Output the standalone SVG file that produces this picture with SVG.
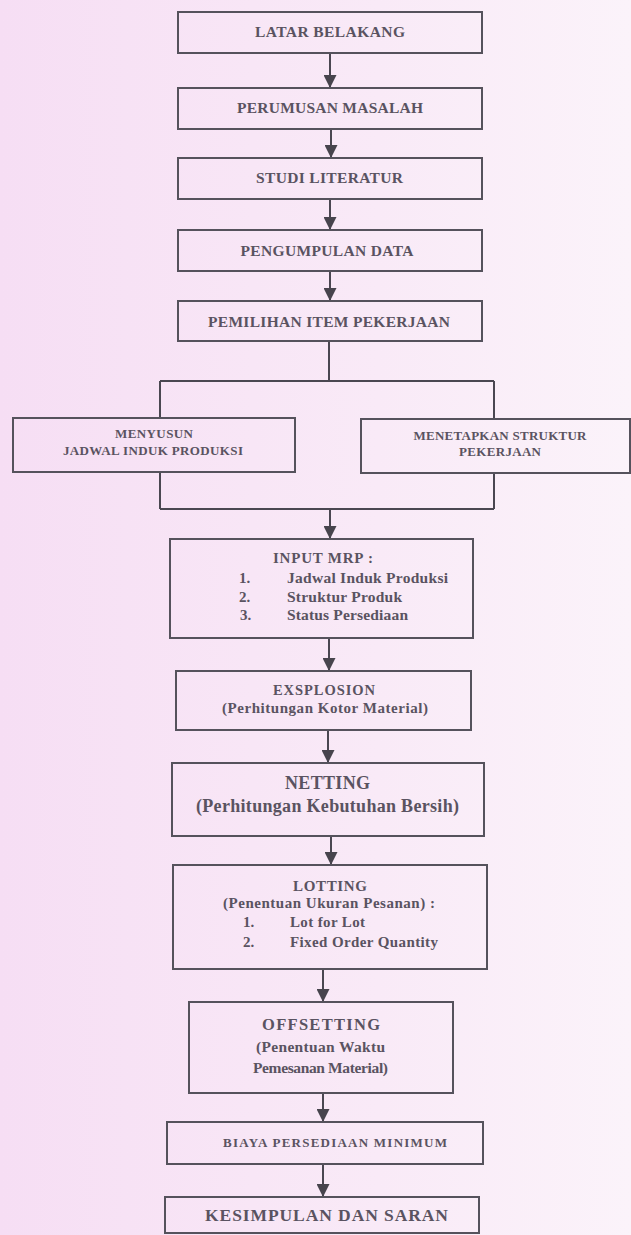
<svg xmlns="http://www.w3.org/2000/svg" width="631" height="1235" viewBox="0 0 631 1235">
<defs>
<linearGradient id="bg" x1="0" y1="0" x2="1" y2="0">
<stop offset="0" stop-color="#f6def4"/>
<stop offset="0.6" stop-color="#f9eaf7"/>
<stop offset="1" stop-color="#fbf3fa"/>
</linearGradient>
<marker id="ah" viewBox="0 0 12 12" refX="12" refY="6" markerWidth="13" markerHeight="13" orient="auto" markerUnits="userSpaceOnUse">
<path d="M0,0 L12,6 L0,12 z" fill="#47444d"/>
</marker>
<style>
.box{fill:none;stroke:#55525c;stroke-width:2}
.ln{fill:none;stroke:#4a4751;stroke-width:2}
.ar{fill:none;stroke:#4a4751;stroke-width:2;marker-end:url(#ah)}
text{font-family:"Liberation Serif","Times New Roman",serif;font-weight:bold;fill:#5a5361}
.c{text-anchor:middle}
</style>
</defs>
<rect x="0" y="0" width="631" height="1235" fill="url(#bg)"/>

<g id="connectors">
<line class="ar" x1="330" y1="53" x2="330" y2="88"/>
<line class="ar" x1="331" y1="129" x2="331" y2="158"/>
<line class="ar" x1="330" y1="199" x2="330" y2="230"/>
<line class="ar" x1="330" y1="271" x2="330" y2="301"/>
<line class="ln" x1="329" y1="341" x2="329" y2="381"/>
<line class="ln" x1="160" y1="381" x2="494" y2="381"/>
<line class="ln" x1="160" y1="381" x2="160" y2="418"/>
<line class="ln" x1="494" y1="381" x2="494" y2="419"/>
<line class="ln" x1="160" y1="472" x2="160" y2="509"/>
<line class="ln" x1="494" y1="473" x2="494" y2="509"/>
<line class="ln" x1="160" y1="509" x2="494" y2="509"/>
<line class="ar" x1="330" y1="509" x2="330" y2="539"/>
<line class="ar" x1="329" y1="638" x2="329" y2="671"/>
<line class="ar" x1="328" y1="730" x2="328" y2="763"/>
<line class="ar" x1="331" y1="836" x2="331" y2="865"/>
<line class="ar" x1="323" y1="969" x2="323" y2="1002"/>
<line class="ar" x1="323" y1="1093" x2="323" y2="1122"/>
<line class="ar" x1="323" y1="1164" x2="323" y2="1197"/>
</g>

<g id="latar">
<rect class="box" x="178" y="12" width="304" height="41"/>
<text class="c" x="330" y="37" font-size="15.5" textLength="150">LATAR BELAKANG</text>
</g>
<g id="perumusan">
<rect class="box" x="178" y="88" width="304" height="41"/>
<text class="c" x="330" y="113" font-size="15.5" textLength="186">PERUMUSAN MASALAH</text>
</g>
<g id="studi">
<rect class="box" x="178" y="158" width="304" height="41"/>
<text class="c" x="329.5" y="183" font-size="15.5" textLength="147">STUDI LITERATUR</text>
</g>
<g id="pengumpulan">
<rect class="box" x="178" y="230" width="304" height="41"/>
<text class="c" x="327" y="256" font-size="15.5" textLength="173">PENGUMPULAN DATA</text>
</g>
<g id="pemilihan">
<rect class="box" x="178" y="301" width="304" height="40"/>
<text class="c" x="329" y="327" font-size="15.5" textLength="242">PEMILIHAN ITEM PEKERJAAN</text>
</g>
<g id="menyusun">
<rect class="box" x="13" y="418" width="282" height="54"/>
<text class="c" x="154" y="438" font-size="13" textLength="78">MENYUSUN</text>
<text class="c" x="153" y="455" font-size="13" textLength="180">JADWAL INDUK PRODUKSI</text>
</g>
<g id="menetapkan">
<rect class="box" x="361" y="419" width="269" height="54"/>
<text class="c" x="500" y="440" font-size="13" textLength="173">MENETAPKAN STRUKTUR</text>
<text class="c" x="500" y="456" font-size="13" textLength="82">PEKERJAAN</text>
</g>
<g id="input-mrp">
<rect class="box" x="170" y="539" width="303" height="99"/>
<text x="273" y="563" font-size="15" textLength="100">INPUT MRP :</text>
<text x="239" y="583" font-size="15">1.</text>
<text x="287" y="583" font-size="15.5" textLength="161">Jadwal Induk Produksi</text>
<text x="239" y="602" font-size="15">2.</text>
<text x="287" y="602" font-size="15.5" textLength="115">Struktur Produk</text>
<text x="240" y="620" font-size="15">3.</text>
<text x="287" y="620" font-size="15.5" textLength="121">Status Persediaan</text>
</g>
<g id="exsplosion">
<rect class="box" x="176" y="671" width="295" height="59"/>
<text class="c" x="324" y="695" font-size="14.5" textLength="102">EXSPLOSION</text>
<text class="c" x="325" y="713" font-size="15" textLength="206">(Perhitungan Kotor Material)</text>
</g>
<g id="netting">
<rect class="box" x="172" y="763" width="312" height="73"/>
<text class="c" x="327.5" y="789" font-size="18" textLength="85">NETTING</text>
<text class="c" x="327.5" y="812" font-size="18" textLength="263">(Perhitungan Kebutuhan Bersih)</text>
</g>
<g id="lotting">
<rect class="box" x="173" y="865" width="314" height="104"/>
<text class="c" x="330" y="891" font-size="15" textLength="74">LOTTING</text>
<text class="c" x="329" y="908" font-size="15" textLength="212">(Penentuan Ukuran Pesanan) :</text>
<text x="243" y="927" font-size="15">1.</text>
<text x="290" y="927" font-size="15" textLength="75">Lot for Lot</text>
<text x="243" y="947" font-size="15">2.</text>
<text x="290" y="947" font-size="15" textLength="148">Fixed Order Quantity</text>
</g>
<g id="offsetting">
<rect class="box" x="189" y="1002" width="264" height="91"/>
<text class="c" x="321" y="1030" font-size="16.5" textLength="118">OFFSETTING</text>
<text class="c" x="320.5" y="1052" font-size="15.5" textLength="129">(Penentuan Waktu</text>
<text class="c" x="320.5" y="1073" font-size="15.5" textLength="135">Pemesanan Material)</text>
</g>
<g id="biaya">
<rect class="box" x="167" y="1122" width="316" height="42"/>
<text class="c" x="335" y="1147" font-size="13" textLength="224">BIAYA PERSEDIAAN MINIMUM</text>
</g>
<g id="kesimpulan">
<rect class="box" x="165" y="1197" width="314" height="36"/>
<text class="c" x="326.5" y="1221" font-size="17.5" textLength="243">KESIMPULAN DAN SARAN</text>
</g>
</svg>
